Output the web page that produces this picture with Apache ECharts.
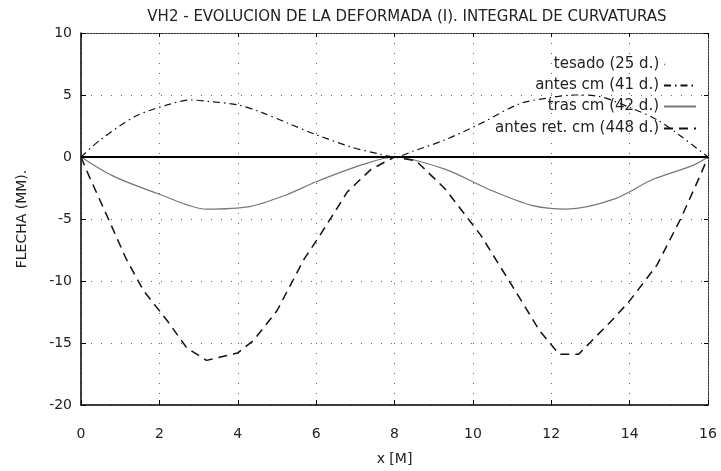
<!DOCTYPE html>
<html>
<head>
<meta charset="utf-8">
<script src="https://cdn.jsdelivr.net/npm/echarts@6/dist/echarts.min.js"></script>
<style>
html,body{margin:0;padding:0;background:#fff;}
#chart{width:721px;height:471px;}
</style>
</head>
<body>
<div id="chart"></div>
<script>
// datos
var xTicks = [0, 2, 4, 6, 8, 10, 12, 14, 16];
var yTicks = [10, 5, 0, -5, -10, -15, -20];

var tesadoX = [0, 16];
var tesadoY = [0, 0];

var antesCmX = [0, 0.5, 1.4, 2.2, 2.8, 3.2, 4.0, 4.6, 5.3, 6.0, 6.9, 7.6, 8, 8.5, 9.3, 10.2, 11.2, 12.0, 12.6, 13.2, 14.0, 14.7, 15.3, 16];
var antesCmY = [0, 1.4, 3.3, 4.2, 4.6, 4.5, 4.2, 3.6, 2.7, 1.8, 0.8, 0.25, 0, 0.5, 1.4, 2.7, 4.3, 4.8, 5.0, 4.9, 4.0, 3.0, 1.7, 0];

var trasCmX = [0, 0.8, 2.0, 3.2, 4.3, 5.2, 6.0, 7.2, 8, 9.3, 10.4, 11.5, 12.4, 13.6, 14.6, 15.6, 16];
var trasCmY = [0, -1.5, -3.0, -4.2, -4.0, -3.1, -2.0, -0.6, 0, -1.0, -2.6, -3.9, -4.2, -3.4, -1.8, -0.7, 0];

var antesRetX = [0, 0.2, 0.7, 1.15, 1.6, 2.2, 2.7, 3.2, 4.0, 4.4, 5.0, 5.7, 6.1, 6.8, 7.4, 8, 8.55, 9.3, 10.2, 11.2, 11.7, 12.2, 12.7, 13.6, 14.0, 14.7, 15.3, 15.8, 16];
var antesRetY = [0, -1.5, -5.0, -8.2, -10.8, -13.2, -15.4, -16.4, -15.8, -14.8, -12.4, -8.2, -6.3, -2.8, -1.0, 0, -0.3, -2.6, -6.3, -11.4, -14.0, -15.9, -15.9, -13.0, -11.6, -8.7, -5.0, -1.5, 0];

var nombres = ['tesado (25 d.)', 'antes cm (41 d.)', 'tras cm (42 d.)', 'antes ret. cm (448 d.)'];

function pares(xs, ys) {
    var out = [];
    for (var i = 0; i < xs.length; i++) {
        out.push([xs[i], ys[i]]);
    }
    return out;
}

var fuente = '"DejaVu Sans", sans-serif';
var colorTexto = '#222';
var gridPunteado = {show: true, lineStyle: {color: '#666', type: [1, 9], width: 1}};
var bordePunteado = {show: true, onZero: false, lineStyle: {color: '#333', width: 1, type: [2, 1]}};

function leyenda(nombre, top, linea) {
    var l = {
        data: [nombre],
        right: 19,
        top: top,
        align: 'right',
        itemWidth: 32,
        itemHeight: 10,
        itemGap: 0,
        itemStyle: {opacity: 0},
        textStyle: {fontFamily: fuente, fontSize: 15, color: colorTexto}
    };
    if (linea) {
        l.lineStyle = linea;
    }
    return l;
}

var myChart = echarts.init(document.getElementById('chart'));
var option = {
    animation: false,
    backgroundColor: '#fff',
    title: {
        text: 'VH2 - EVOLUCION DE LA DEFORMADA (I). INTEGRAL DE CURVATURAS',
        left: 402,
        textAlign: 'center',
        top: 5,
        textStyle: {fontFamily: fuente, fontSize: 15, fontWeight: 'normal', color: colorTexto}
    },
    legend: [
        leyenda(nombres[0], 52, {type: [1, 40], width: 1.5, color: '#555'}),
        leyenda(nombres[1], 73),
        leyenda(nombres[2], 94),
        leyenda(nombres[3], 116)
    ],
    grid: {left: 81, right: 13, top: 33, bottom: 62},
    xAxis: [
        {
            type: 'value',
            min: 0,
            max: 16,
            interval: 2,
            name: 'x [M]',
            nameLocation: 'middle',
            nameGap: 47,
            nameTextStyle: {fontFamily: fuente, fontSize: 14, color: colorTexto},
            axisLine: {show: true, onZero: false, lineStyle: {color: '#000', width: 1.5}},
            axisTick: {show: true, inside: true, length: 5, lineStyle: {color: '#000'}},
            axisLabel: {fontFamily: fuente, fontSize: 14, color: colorTexto, margin: 22},
            splitLine: gridPunteado
        },
        {
            type: 'value',
            position: 'top',
            min: 0,
            max: 16,
            interval: 2,
            axisLine: bordePunteado,
            axisTick: {show: true, inside: true, length: 4, lineStyle: {color: '#000'}},
            axisLabel: {show: false},
            splitLine: {show: false}
        }
    ],
    yAxis: [
        {
            type: 'value',
            min: -20,
            max: 10,
            interval: 5,
            name: 'FLECHA (MM).',
            nameLocation: 'middle',
            nameGap: 52,
            nameTextStyle: {fontFamily: fuente, fontSize: 14, color: colorTexto},
            axisLine: {show: true, onZero: false, lineStyle: {color: '#000', width: 1.5}},
            axisTick: {show: true, inside: true, length: 5, lineStyle: {color: '#000'}},
            axisLabel: {fontFamily: fuente, fontSize: 14, color: colorTexto, margin: 9},
            splitLine: gridPunteado
        },
        {
            type: 'value',
            position: 'right',
            min: -20,
            max: 10,
            interval: 5,
            axisLine: bordePunteado,
            axisTick: {show: true, inside: true, length: 4, lineStyle: {color: '#000'}},
            axisLabel: {show: false},
            splitLine: {show: false}
        }
    ],
    series: [
        {
            name: nombres[0],
            type: 'line',
            data: pares(tesadoX, tesadoY),
            showSymbol: false,
            symbol: 'none',
            lineStyle: {color: '#000', width: 2, type: 'solid'},
            itemStyle: {color: '#000'},
            z: 5
        },
        {
            name: nombres[1],
            type: 'line',
            data: pares(antesCmX, antesCmY),
            showSymbol: false,
            symbol: 'none',
            smooth: 0.3,
            lineStyle: {color: '#111', width: 1.2, type: [7, 4, 1.5, 4]},
            itemStyle: {color: '#111'}
        },
        {
            name: nombres[2],
            type: 'line',
            data: pares(trasCmX, trasCmY),
            showSymbol: false,
            symbol: 'none',
            smooth: 0.3,
            lineStyle: {color: '#777', width: 1.2, type: 'solid'},
            itemStyle: {color: '#777'}
        },
        {
            name: nombres[3],
            type: 'line',
            data: pares(antesRetX, antesRetY),
            showSymbol: false,
            symbol: 'none',
            lineStyle: {color: '#111', width: 1.5, type: [9, 6]},
            itemStyle: {color: '#111'}
        }
    ]
};
myChart.setOption(option);
</script>
</body>
</html>
